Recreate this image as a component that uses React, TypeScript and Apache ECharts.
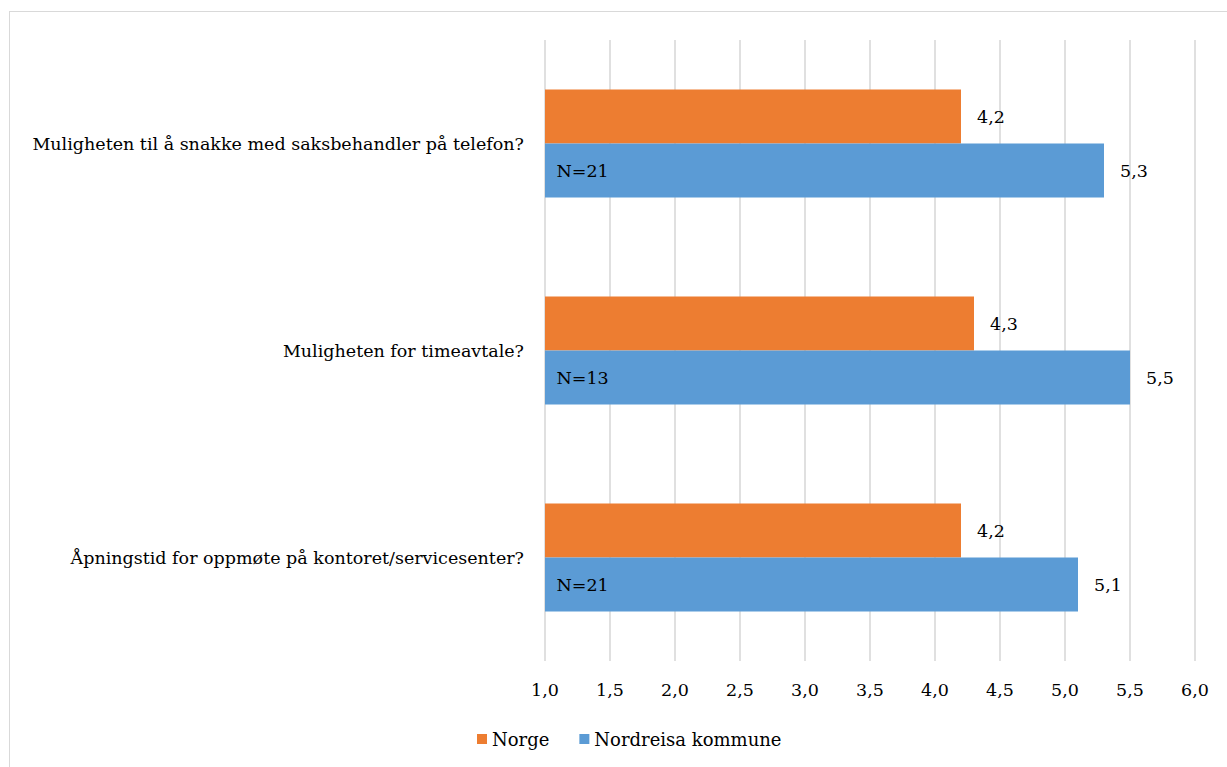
import React, { useEffect, useRef } from "react";
import * as echarts from "echarts";

// Questions, top to bottom
const categories = [
  "Muligheten til å snakke med saksbehandler på telefon?",
  "Muligheten for timeavtale?",
  "Åpningstid for oppmøte på kontoret/servicesenter?",
];
const seriesNames = ["Norge", "Nordreisa kommune"];
const norgeValues = [4.2, 4.3, 4.2];
const nordreisaValues = [5.3, 5.5, 5.1];
const respondentLabels = ["N=21", "N=13", "N=21"];
const axisMin = 1.0;
const axisMax = 6.0;
const axisStep = 0.5;

const FONT = "'DejaVu Serif', serif";
const FS = 17.5;
const fmt = (v: number) => v.toFixed(1).replace(".", ",");

export default function App() {
  const ref = useRef<HTMLDivElement>(null);

  useEffect(() => {
    if (!ref.current) return;
    const chart = echarts.init(ref.current, null, { renderer: "svg" });
    chart.setOption({
      animation: false,
      textStyle: { fontFamily: FONT },
      grid: { left: 545, right: 32, top: 40, bottom: 106, containLabel: false },
      legend: {
        data: seriesNames,
        bottom: 14,
        left: 472,
        itemWidth: 10,
        itemHeight: 10,
        itemGap: 30,
        icon: "rect",
        textStyle: { fontFamily: FONT, fontSize: 18, color: "#000" },
      },
      xAxis: {
        type: "value",
        min: axisMin,
        max: axisMax,
        interval: axisStep,
        axisLine: { show: false },
        axisTick: { show: false },
        splitLine: { lineStyle: { color: "#d9d9d9", width: 1.6 } },
        axisLabel: {
          formatter: (v: number) => fmt(v),
          fontFamily: FONT,
          fontSize: FS,
          color: "#000",
          margin: 20,
        },
      },
      yAxis: {
        type: "category",
        data: categories,
        inverse: true,
        axisLine: { show: false },
        axisTick: { show: false },
        splitLine: { show: false },
        axisLabel: { fontFamily: FONT, fontSize: FS, color: "#000", margin: 21 },
      },
      series: [
        {
          name: seriesNames[0],
          type: "bar",
          data: norgeValues,
          barWidth: 54,
          barGap: "0%",
          itemStyle: { color: "#ED7D31" },
          label: {
            show: true,
            position: "right",
            distance: 16,
            formatter: (p: any) => fmt(p.value),
            fontFamily: FONT,
            fontSize: FS,
            color: "#000",
          },
        },
        {
          name: seriesNames[1],
          type: "bar",
          data: nordreisaValues,
          barWidth: 54,
          barGap: "0%",
          itemStyle: { color: "#5B9BD5" },
          label: {
            show: true,
            position: "right",
            distance: 16,
            formatter: (p: any) => fmt(p.value),
            fontFamily: FONT,
            fontSize: FS,
            color: "#000",
          },
          markPoint: {
            symbol: "rect",
            symbolSize: [1, 1],
            itemStyle: { color: "rgba(0,0,0,0)" },
            label: {
              show: true,
              position: "right",
              distance: 11,
              formatter: (p: any) => respondentLabels[p.dataIndex],
              fontFamily: FONT,
              fontSize: FS,
              color: "#000",
            },
            data: categories.map((c) => ({ coord: [axisMin, c] })),
          },
        },
      ],
    });
    return () => chart.dispose();
  }, []);

  return (
    <div style={{ position: "fixed", left: 0, top: 0, width: 1227, height: 767, overflow: "hidden", background: "#fff" }}>
      <div
        style={{
          position: "absolute",
          left: 9,
          top: 11,
          width: 1300,
          height: 900,
          border: "1.5px solid #d9d9d9",
        }}
      />
      <div ref={ref} style={{ position: "absolute", left: 0, top: 0, width: 1227, height: 767 }} />
    </div>
  );
}
